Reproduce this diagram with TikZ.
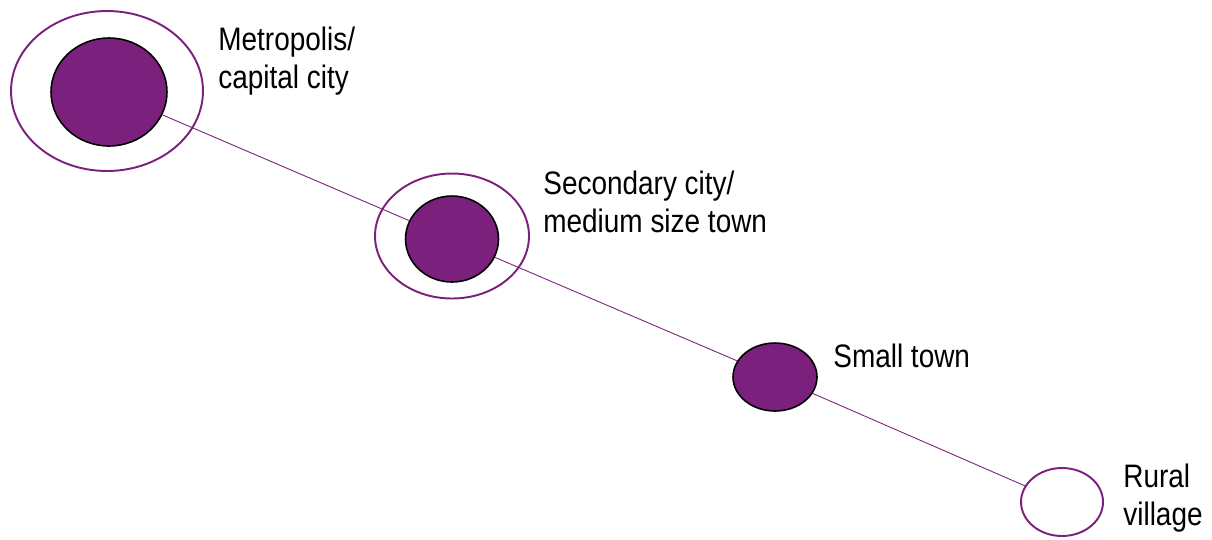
\documentclass[tikz,border=0pt]{standalone}
\usepackage{fontspec}
\setmainfont{Liberation Sans}[FakeStretch=0.86]
\usetikzlibrary{shapes.geometric}
\definecolor{plum}{RGB}{123,33,125}
\tikzset{
    ring/.style={
           ellipse,
           draw=plum, line width=1.1pt,
           inner sep=0pt,
           },
}
\tikzset{
    core/.style={
           ellipse,
           draw=black, line width=0.9pt,
           inner sep=0pt,
           fill=plum,
           },
}
\tikzset{
    lbl/.style={
           align=left,
           inner sep=0pt,
           anchor=base west,
           font=\fontsize{18.5}{21.5}\selectfont,
           },
}

\begin{document}
\begin{tikzpicture}[x=0.02cm,y=-0.02cm]
\useasboundingbox (0,0) rectangle (1212,539);
\node[ring,minimum width=3.84cm,minimum height=3.2cm](metroring) at (107,91){};
\node[core,minimum width=2.32cm,minimum height=2.16cm](metro) at (109,92){};
\node[ring,minimum width=3.08cm,minimum height=2.5cm](cityring) at (452,236){};
\node[core,minimum width=1.86cm,minimum height=1.72cm](city) at (452,239){};
\node[core,minimum width=1.68cm,minimum height=1.36cm](town) at (775,377){};
\node[ring,fill=white,minimum width=1.64cm,minimum height=1.36cm](village) at (1062,502){};
% the base anchor sits on the last line
\node[lbl](metrolbl) at (218,88){Metropolis/\\capital city};
\node[lbl](citylbl) at (543,232){Secondary city/\\medium size town};
\node[lbl](townlbl) at (833,367){Small town};
\node[lbl](villagelbl) at (1123,525){Rural\\village};
\draw[plum,line width=0.5pt] (metro)--(city);
\draw[plum,line width=0.5pt] (city)--(town);
\draw[plum,line width=0.5pt] (town)--(village);
\end{tikzpicture}
\end{document}
